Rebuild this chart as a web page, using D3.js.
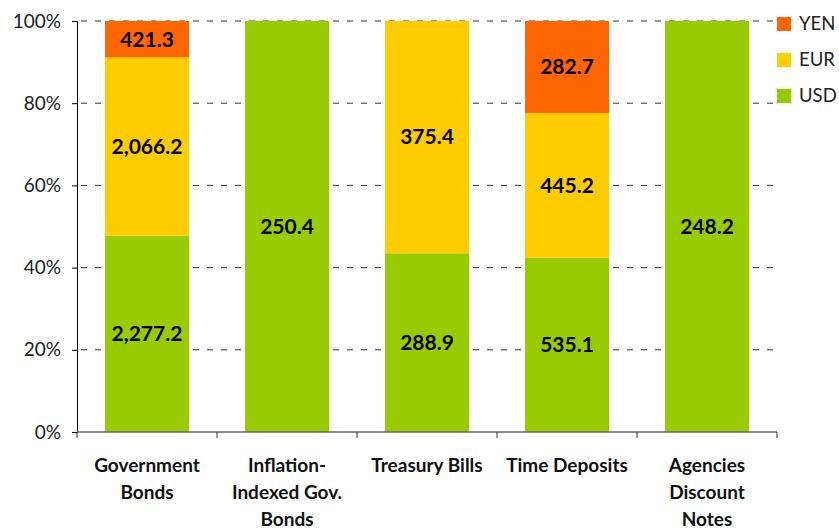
<!DOCTYPE html>
<html>
<head>
<meta charset="utf-8">
<script src="https://cdn.jsdelivr.net/npm/d3@7"></script>
<style>
body{margin:0;background:#fff;}
text{font-family:Lato,"Open Sans",sans-serif;}
</style>
</head>
<body>
<script>
// categories and values (amounts per currency)
var categories = ["Government\nBonds", "Inflation-\nIndexed Gov.\nBonds", "Treasury Bills", "Time Deposits", "Agencies\nDiscount\nNotes"];
var currencies = ["USD", "EUR", "YEN"];
var usd = [2277.2, 250.4, 288.9, 535.1, 248.2];
var eur = [2066.2, 0, 375.4, 445.2, 0];
var yen = [421.3, 0, 0, 282.7, 0];
var yTicks = [0, 0.2, 0.4, 0.6, 0.8, 1];
var colors = {USD: "#99cc00", EUR: "#ffcc00", YEN: "#ff6600"};

var width = 839, height = 532;
var margin = {left: 77, right: 62, top: 21, bottom: 100};

var svg = d3.select("body").append("svg")
  .attr("width", width)
  .attr("height", height);

// build rows for stack
var rows = categories.map(function(c, i){
  return {cat: c, USD: usd[i], EUR: eur[i], YEN: yen[i]};
});
var stack = d3.stack().keys(currencies).offset(d3.stackOffsetExpand);
var series = stack(rows);

var x = d3.scaleBand()
  .domain(categories)
  .range([margin.left, width - margin.right])
  .paddingInner(0.4)
  .paddingOuter(0.2);

var y = d3.scaleLinear()
  .domain([0, 1])
  .range([height - margin.bottom, margin.top]);

// dashed gridlines
svg.append("g")
  .selectAll("line")
  .data(yTicks.slice(1))
  .enter().append("line")
  .attr("x1", margin.left)
  .attr("x2", width - margin.right)
  .attr("y1", function(d){ return y(d); })
  .attr("y2", function(d){ return y(d); })
  .attr("stroke", "#333")
  .attr("stroke-width", 1)
  .attr("stroke-dasharray", "6,8")
  .attr("stroke-dashoffset", -4);

// bars
var groups = svg.append("g").selectAll("g")
  .data(series)
  .enter().append("g")
  .attr("fill", function(d){ return colors[d.key]; });

groups.selectAll("rect")
  .data(function(d){ return d; })
  .enter().append("rect")
  .attr("x", function(d){ return x(d.data.cat); })
  .attr("width", x.bandwidth())
  .attr("y", function(d){ return y(d[1]); })
  .attr("height", function(d){ return y(d[0]) - y(d[1]); });

// value labels
var fmt = d3.format(",.1f");
series.forEach(function(s){
  svg.append("g").selectAll("text")
    .data(s.filter(function(d){ return d.data[s.key] > 0; }))
    .enter().append("text")
    .attr("x", function(d){ return x(d.data.cat) + x.bandwidth()/2; })
    .attr("y", function(d){ return (y(d[0]) + y(d[1]))/2; })
    .attr("dy", "0.35em")
    .attr("text-anchor", "middle")
    .style("font-size", "21px")
    .style("font-weight", "bold")
    .attr("fill", "#000")
    .text(function(d){ return fmt(d.data[s.key]); });
});

// y axis
var yAxis = svg.append("g")
  .attr("transform", "translate(" + margin.left + ",0)")
  .call(d3.axisLeft(y).tickValues(yTicks).tickFormat(d3.format(".0%")).tickSize(5).tickPadding(11));
yAxis.select(".domain").attr("stroke", "#000");
yAxis.selectAll("text").style("font-size", "19px").attr("fill", "#222");

// x axis with boundary ticks
var xAxisY = height - margin.bottom;
svg.append("line")
  .attr("x1", margin.left).attr("x2", width - margin.right)
  .attr("y1", xAxisY).attr("y2", xAxisY)
  .attr("stroke", "#666").attr("stroke-width", 1.5);

var step = x.step();
var bounds = categories.map(function(c){ return x(c) - x.paddingInner()*step/2; });
bounds.push(width - margin.right);
svg.append("g").selectAll("line")
  .data(bounds)
  .enter().append("line")
  .attr("x1", function(d){ return d; }).attr("x2", function(d){ return d; })
  .attr("y1", xAxisY).attr("y2", xAxisY + 6)
  .attr("stroke", "#333");

// category labels
var labels = svg.append("g").selectAll("text")
  .data(categories)
  .enter().append("text")
  .attr("text-anchor", "middle")
  .attr("x", function(d){ return x(d) + x.bandwidth()/2; })
  .attr("y", xAxisY + 40)
  .style("font-size", "19px")
  .style("font-weight", "bold")
  .attr("fill", "#111");
labels.selectAll("tspan")
  .data(function(d){ return d.split("\n"); })
  .enter().append("tspan")
  .attr("x", function(){ var p = this.parentNode; return p.getAttribute("x"); })
  .attr("dy", function(d, i){ return i ? 27 : 0; })
  .text(function(d){ return d; });

// legend
var legendItems = ["YEN", "EUR", "USD"];
var legend = svg.append("g").selectAll("g")
  .data(legendItems)
  .enter().append("g")
  .attr("transform", function(d, i){ return "translate(777," + (17 + i*36) + ")"; });
legend.append("rect")
  .attr("width", 14).attr("height", 14)
  .attr("fill", function(d){ return colors[d]; });
legend.append("text")
  .attr("x", 22).attr("y", 7).attr("dy", "0.35em")
  .style("font-size", "18.5px")
  .attr("fill", "#222")
  .text(function(d){ return d; });
</script>
</body>
</html>
